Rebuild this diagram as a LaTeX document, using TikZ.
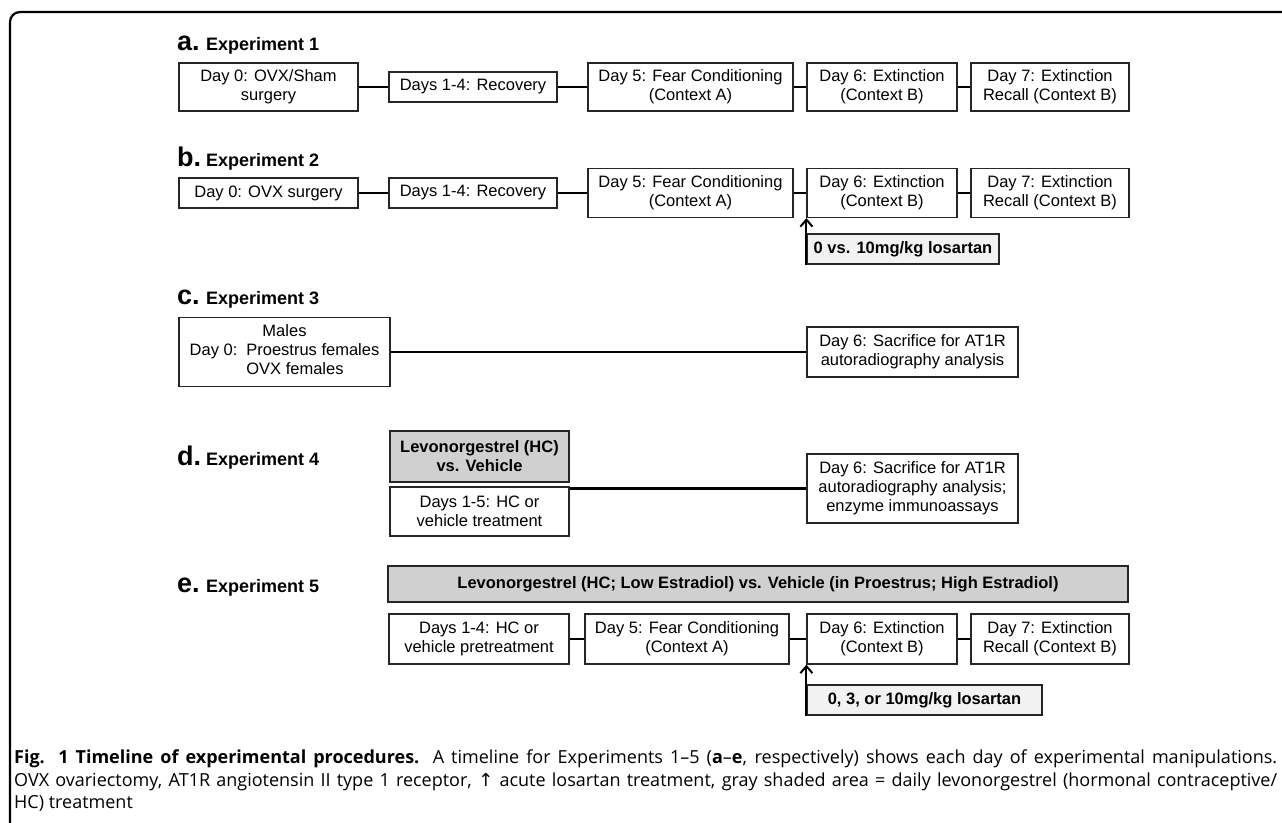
\documentclass[tikz,border=0pt]{standalone}
\usepackage{fontspec}
\setmainfont{Liberation Sans}
\newfontfamily\capfont{Open Sans}
\newfontfamily\symfont{DejaVu Sans}
\usetikzlibrary{arrows.meta}
\definecolor{shade}{RGB}{208,208,208}
\definecolor{lightshade}{RGB}{242,242,242}
\begin{document}
\begin{tikzpicture}[x=1pt,y=-1pt,
  box/.style={draw=black!85, line width=1.2pt, fill=white, inner sep=0pt, align=center,
    font=\fontsize{16.5}{19}\selectfont},
  graybox/.style={box, fill=shade, font=\fontsize{16.5}{19}\selectfont\bfseries},
  dosebox/.style={box, fill=lightshade, font=\fontsize{16.5}{19}\selectfont\bfseries},
  link/.style={line width=2.2pt},
  dose/.style={line width=2pt, -{Straight Barb[length=7pt,width=12pt,line width=2pt]}},
  letter/.style={anchor=base west, inner sep=0pt, font=\fontsize{27}{27}\selectfont\bfseries},
  title/.style={anchor=base west, inner sep=0pt, font=\fontsize{18}{18}\selectfont\bfseries},
  capline/.style={anchor=base west, inner sep=0pt, font=\capfont\fontsize{18}{22}\selectfont},
]
\useasboundingbox (0,0) rectangle (1282,822);
\clip (0,0) rectangle (1282,822);
\draw[line width=2.2pt, rounded corners=10pt] (10,840) -- (10,12) -- (1300,12);

% ---------- a ----------
\node[letter] (la) at (177,50) {a.};
\node[title] (ta) at (206,50) {Experiment 1};
\node[box, minimum width=179pt, minimum height=48pt] (a1) at (268.5,87) {Day 0: OVX/Sham\\surgery};
\node[box, minimum width=168pt, minimum height=30pt] (a2) at (473,87) {Days 1-4: Recovery};
\node[box, minimum width=205pt, minimum height=48pt] (a3) at (690.5,87) {Day 5: Fear Conditioning\\(Context A)};
\node[box, minimum width=150pt, minimum height=48pt] (a4) at (882,87) {Day 6: Extinction\\(Context B)};
\node[box, minimum width=158pt, minimum height=48pt] (a5) at (1050,87) {Day 7: Extinction\\Recall (Context B)};
\draw[link] (a1.east) -- (a2.west);
\draw[link] (a2.east) -- (a3.west);
\draw[link] (a3.east) -- (a4.west);
\draw[link] (a4.east) -- (a5.west);

% ---------- b ----------
\node[letter] (lb) at (177,166) {b.};
\node[title] (tb) at (206,166) {Experiment 2};
\node[box, minimum width=179pt, minimum height=30pt] (b1) at (268.5,193) {Day 0: OVX surgery};
\node[box, minimum width=168pt, minimum height=30pt] (b2) at (473,193) {Days 1-4: Recovery};
\node[box, minimum width=205pt, minimum height=49pt] (b3) at (690.5,193) {Day 5: Fear Conditioning\\(Context A)};
\node[box, minimum width=150pt, minimum height=49pt] (b4) at (882,193) {Day 6: Extinction\\(Context B)};
\node[box, minimum width=158pt, minimum height=49pt] (b5) at (1050,193) {Day 7: Extinction\\Recall (Context B)};
\draw[link] (b1.east) -- (b2.west);
\draw[link] (b2.east) -- (b3.west);
\draw[link] (b3.east) -- (b4.west);
\draw[link] (b4.east) -- (b5.west);
\node[dosebox, minimum width=192pt, minimum height=30pt] (bd) at (903,249) {0 vs. 10mg/kg losartan};
\draw[dose] (bd.south west) -- (b4.south west);

% ---------- c ----------
\node[letter] (lc) at (177,304) {c.};
\node[title] (tc) at (206,304) {Experiment 3};
\node[box, minimum width=211pt, minimum height=69pt] (c1) at (284.5,352)
  {\begin{tabular}{@{}r@{\hspace{9pt}}l@{}}\multicolumn{2}{@{}c@{}}{Males}\\ Day 0: & Proestrus females\\ & OVX females\end{tabular}};
\node[box, minimum width=211pt, minimum height=50pt] (c2) at (912.5,352) {Day 6: Sacrifice for AT1R\\autoradiography analysis};
\draw[link] (c1.east) -- (c2.west);

% ---------- d ----------
\node[letter] (ld) at (177,465) {d.};
\node[title] (td) at (206,465) {Experiment 4};
\node[graybox, minimum width=179pt, minimum height=51pt] (dg) at (479.5,456.5) {Levonorgestrel (HC)\\vs. Vehicle};
\node[box, minimum width=179pt, minimum height=49pt] (dw) at (479.5,511.5) {Days 1-5: HC or\\vehicle treatment};
\node[box, minimum width=211pt, minimum height=69pt] (d2) at (912.5,488.5) {Day 6: Sacrifice for AT1R\\autoradiography analysis;\\enzyme immunoassays};
\draw[link] (d2.west) -- (d2.west -| dw.east);

% ---------- e ----------
\node[letter] (le) at (177,592) {e.};
\node[title] (te) at (206,592) {Experiment 5};
\node[graybox, minimum width=740pt, minimum height=36pt] (eg) at (758,584) {Levonorgestrel (HC; Low Estradiol) vs. Vehicle (in Proestrus; High Estradiol)};
\node[box, minimum width=180pt, minimum height=50pt] (e1) at (479,639) {Days 1-4: HC or\\vehicle pretreatment};
\node[box, minimum width=204pt, minimum height=50pt] (e2) at (687,639) {Day 5: Fear Conditioning\\(Context A)};
\node[box, minimum width=150pt, minimum height=50pt] (e3) at (882,639) {Day 6: Extinction\\(Context B)};
\node[box, minimum width=158pt, minimum height=50pt] (e4) at (1050,639) {Day 7: Extinction\\Recall (Context B)};
\draw[link] (e1.east) -- (e2.west);
\draw[link] (e2.east) -- (e3.west);
\draw[link] (e3.east) -- (e4.west);
\node[dosebox, minimum width=235pt, minimum height=30pt] (ed) at (924.5,700) {0, 3, or 10mg/kg losartan};
\draw[dose] (ed.south west) -- (e3.south west);

% ---------- caption ----------
\node[capline] (cap1) at (14,763) {\makebox[1263pt][s]{\textbf{Fig. 1 Timeline of experimental procedures.} A timeline for Experiments 1–5 (\textbf{a}–\textbf{e}, respectively) shows each day of experimental manipulations.}};
\node[capline] (cap2) at (14,786) {\makebox[1263pt][s]{OVX ovariectomy, AT1R angiotensin II type 1 receptor, {\symfont ↑} acute losartan treatment, gray shaded area = daily levonorgestrel (hormonal contraceptive/}};
\node[capline] (cap3) at (14,808) {HC) treatment};
\end{tikzpicture}
\end{document}
